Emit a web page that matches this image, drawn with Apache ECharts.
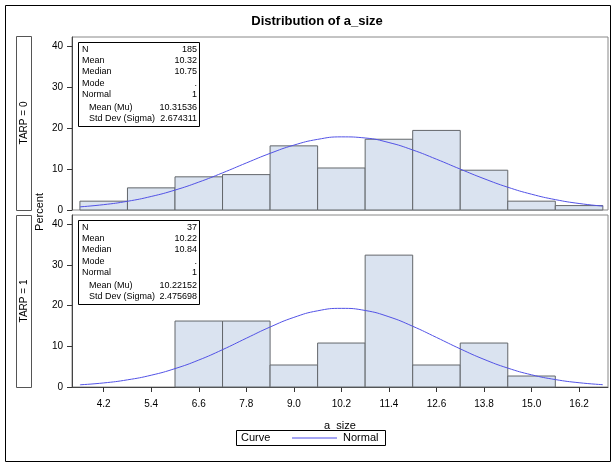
<!DOCTYPE html>
<html>
<head>
<meta charset="utf-8">
<script src="https://cdn.jsdelivr.net/npm/echarts@6/dist/echarts.min.js"></script>
<style>
  html, body { margin: 0; padding: 0; background: #fff; }
  #chart { width: 612px; height: 465px; }
</style>
</head>
<body>
<div id="chart"></div>
<script>
// histogram bins (midpoints) and percent per bin
const binMids = [4.2, 5.4, 6.6, 7.8, 9.0, 10.2, 11.4, 12.6, 13.8, 15.0, 16.2];
const binWidth = 1.2;
const pctTarp0 = [2.16, 5.41, 8.11, 8.65, 15.68, 10.27, 17.3, 19.46, 9.73, 2.16, 1.08];
const pctTarp1 = [0, 0, 16.22, 16.22, 5.41, 10.81, 32.43, 5.41, 10.81, 2.7, 0];

// normal curve
const curveX = [3.6, 4.2, 4.8, 5.4, 6.0, 6.6, 7.2, 7.8, 8.4, 9.0, 9.6, 10.2,
                10.8, 11.4, 12.0, 12.6, 13.2, 13.8, 14.4, 15.0, 15.6, 16.2, 16.8];
const curveTarp0 = [0.77, 1.31, 2.13, 3.31, 4.87, 6.82, 9.08, 11.5, 13.85, 15.86, 17.27, 17.88,
                    17.61, 16.49, 14.68, 12.42, 10.0, 7.66, 5.57, 3.86, 2.54, 1.59, 0.95];
const curveTarp1 = [0.54, 1.0, 1.76, 2.9, 4.52, 6.63, 9.18, 11.99, 14.75, 17.12, 18.74, 19.34,
                    18.82, 17.27, 14.94, 12.19, 9.38, 6.8, 4.65, 3.0, 1.83, 1.05, 0.57];

const xTicks = [4.2, 5.4, 6.6, 7.8, 9.0, 10.2, 11.4, 12.6, 13.8, 15.0, 16.2];
const yTicks = [0, 10, 20, 30, 40];

const statNames = ['N', 'Mean', 'Median', 'Mode', 'Normal', 'Mean (Mu)', 'Std Dev (Sigma)'];
const statsTarp0 = ['185', '10.32', '10.75', '.', '1', '10.31536', '2.674311'];
const statsTarp1 = ['37', '10.22', '10.84', '.', '1', '10.22152', '2.475698'];

const FONT = 'Liberation Sans, Arial, sans-serif';
const chart = echarts.init(document.getElementById('chart'));

function barItem(params, api) {
  const mid = api.value(0), v = api.value(1);
  if (!v) return null;
  const p0 = api.coord([mid - binWidth / 2, 0]);
  const p1 = api.coord([mid + binWidth / 2, v]);
  return {
    type: 'rect',
    shape: { x: p0[0], y: p1[1], width: p1[0] - p0[0], height: p0[1] - p1[1] },
    style: { fill: '#dae3f0', stroke: '#63676b', lineWidth: 1 }
  };
}

function statBox(top, values) {
  const rowOff = [8, 19, 30, 41.5, 53, 65.5, 77];
  const kids = [{
    type: 'rect', shape: { x: 78.5, y: top + 0.5, width: 121, height: 84 },
    style: { fill: '#fff', stroke: '#000', lineWidth: 1 }
  }];
  statNames.forEach((name, i) => {
    kids.push({ type: 'text', x: i > 4 ? 89 : 82, y: top + rowOff[i],
      style: { text: name, font: '9px ' + FONT, fill: '#000', verticalAlign: 'middle' } });
    kids.push({ type: 'text', x: 197, y: top + rowOff[i],
      style: { text: values[i], font: '9px ' + FONT, fill: '#000', align: 'right', verticalAlign: 'middle' } });
  });
  return { type: 'group', z: 100, children: kids };
}

function stripBox(top, h, label) {
  return { type: 'group', children: [
    { type: 'rect', shape: { x: 16.5, y: top + 0.5, width: 15, height: h },
      style: { fill: '#fff', stroke: '#555', lineWidth: 1 } },
    { type: 'text', x: 24, y: top + h / 2, rotation: Math.PI / 2,
      style: { text: label, font: '10px ' + FONT, fill: '#000', align: 'center', verticalAlign: 'middle' } }
  ] };
}

const grids = [
  { left: 72, right: 4, top: 37, height: 173, show: true, borderColor: '#888', borderWidth: 1 },
  { left: 72, right: 4, top: 215, height: 172, show: true, borderColor: '#888', borderWidth: 1 }
];

function xAx(i, visible) {
  return {
    type: 'value', gridIndex: i, min: 3.4, max: 16.93, show: visible,
    name: visible ? 'a_size' : '', nameLocation: 'middle', nameGap: 33,
    nameTextStyle: { fontFamily: FONT, fontSize: 11, color: '#000' },
    axisLine: { show: true, lineStyle: { color: '#444' } },
    axisTick: { show: true, length: 5, customValues: xTicks, lineStyle: { color: '#333' } },
    axisLabel: { show: true, customValues: xTicks, margin: 12, fontFamily: FONT, fontSize: 10, color: '#000',
      formatter: v => v.toFixed(1) },
    splitLine: { show: false }
  };
}

function yAx(i) {
  return {
    type: 'value', gridIndex: i, min: 0, max: 42.3,
    axisLine: { show: true, lineStyle: { color: '#444' } },
    axisTick: { show: true, length: 5, customValues: yTicks, lineStyle: { color: '#333' } },
    axisLabel: { customValues: yTicks, margin: 9, fontFamily: FONT, fontSize: 10, color: '#000' },
    splitLine: { show: false }
  };
}

const zip = (xs, ys) => xs.map((x, i) => [x, ys[i]]);

chart.setOption({
  animation: false,
  title: {
    text: 'Distribution of a_size', left: 312, top: 10, textAlign: 'center',
    textStyle: { fontFamily: FONT, fontSize: 13, fontWeight: 'bold', color: '#000' }
  },
  grid: grids,
  xAxis: [xAx(0, false), xAx(1, true)],
  yAxis: [yAx(0), yAx(1)],
  legend: {
    data: [{ name: 'Normal', icon: 'rect' }], left: 292, top: 432.5, padding: 0, itemWidth: 45, itemHeight: 1,
    itemStyle: { color: '#4a4ae8' },
    textStyle: { fontFamily: FONT, fontSize: 11, color: '#000', padding: [0, 0, 0, 1] }
  },
  series: [
    { type: 'custom', name: 'TARP0', xAxisIndex: 0, yAxisIndex: 0, renderItem: barItem,
      encode: { x: 0, y: 1 }, data: zip(binMids, pctTarp0) },
    { type: 'custom', name: 'TARP1', xAxisIndex: 1, yAxisIndex: 1, renderItem: barItem,
      encode: { x: 0, y: 1 }, data: zip(binMids, pctTarp1) },
    { type: 'line', name: 'Normal', xAxisIndex: 0, yAxisIndex: 0, smooth: true, symbol: 'none',
      lineStyle: { color: '#5252e6', width: 1 }, itemStyle: { color: '#5252e6' }, z: 5,
      data: zip(curveX, curveTarp0) },
    { type: 'line', name: 'Normal', xAxisIndex: 1, yAxisIndex: 1, smooth: true, symbol: 'none',
      lineStyle: { color: '#5252e6', width: 1 }, itemStyle: { color: '#5252e6' }, z: 5,
      data: zip(curveX, curveTarp1) }
  ],
  graphic: [
    { type: 'rect', shape: { x: 5.5, y: 5.5, width: 605, height: 456 },
      style: { fill: 'none', stroke: '#000', lineWidth: 1 } },
    stripBox(36, 174, 'TARP = 0'),
    stripBox(215, 172, 'TARP = 1'),
    { type: 'text', x: 40, y: 212, rotation: Math.PI / 2,
      style: { text: 'Percent', font: '11px ' + FONT, fill: '#000', align: 'center', verticalAlign: 'middle' } },
    statBox(42, statsTarp0),
    statBox(220, statsTarp1),
    { type: 'rect', shape: { x: 236.5, y: 430.5, width: 149, height: 15 },
      style: { fill: 'none', stroke: '#000', lineWidth: 1 } },
    { type: 'text', x: 241, y: 438,
      style: { text: 'Curve', font: '11px ' + FONT, fill: '#000', verticalAlign: 'middle' } }
  ]
});
</script>
</body>
</html>
